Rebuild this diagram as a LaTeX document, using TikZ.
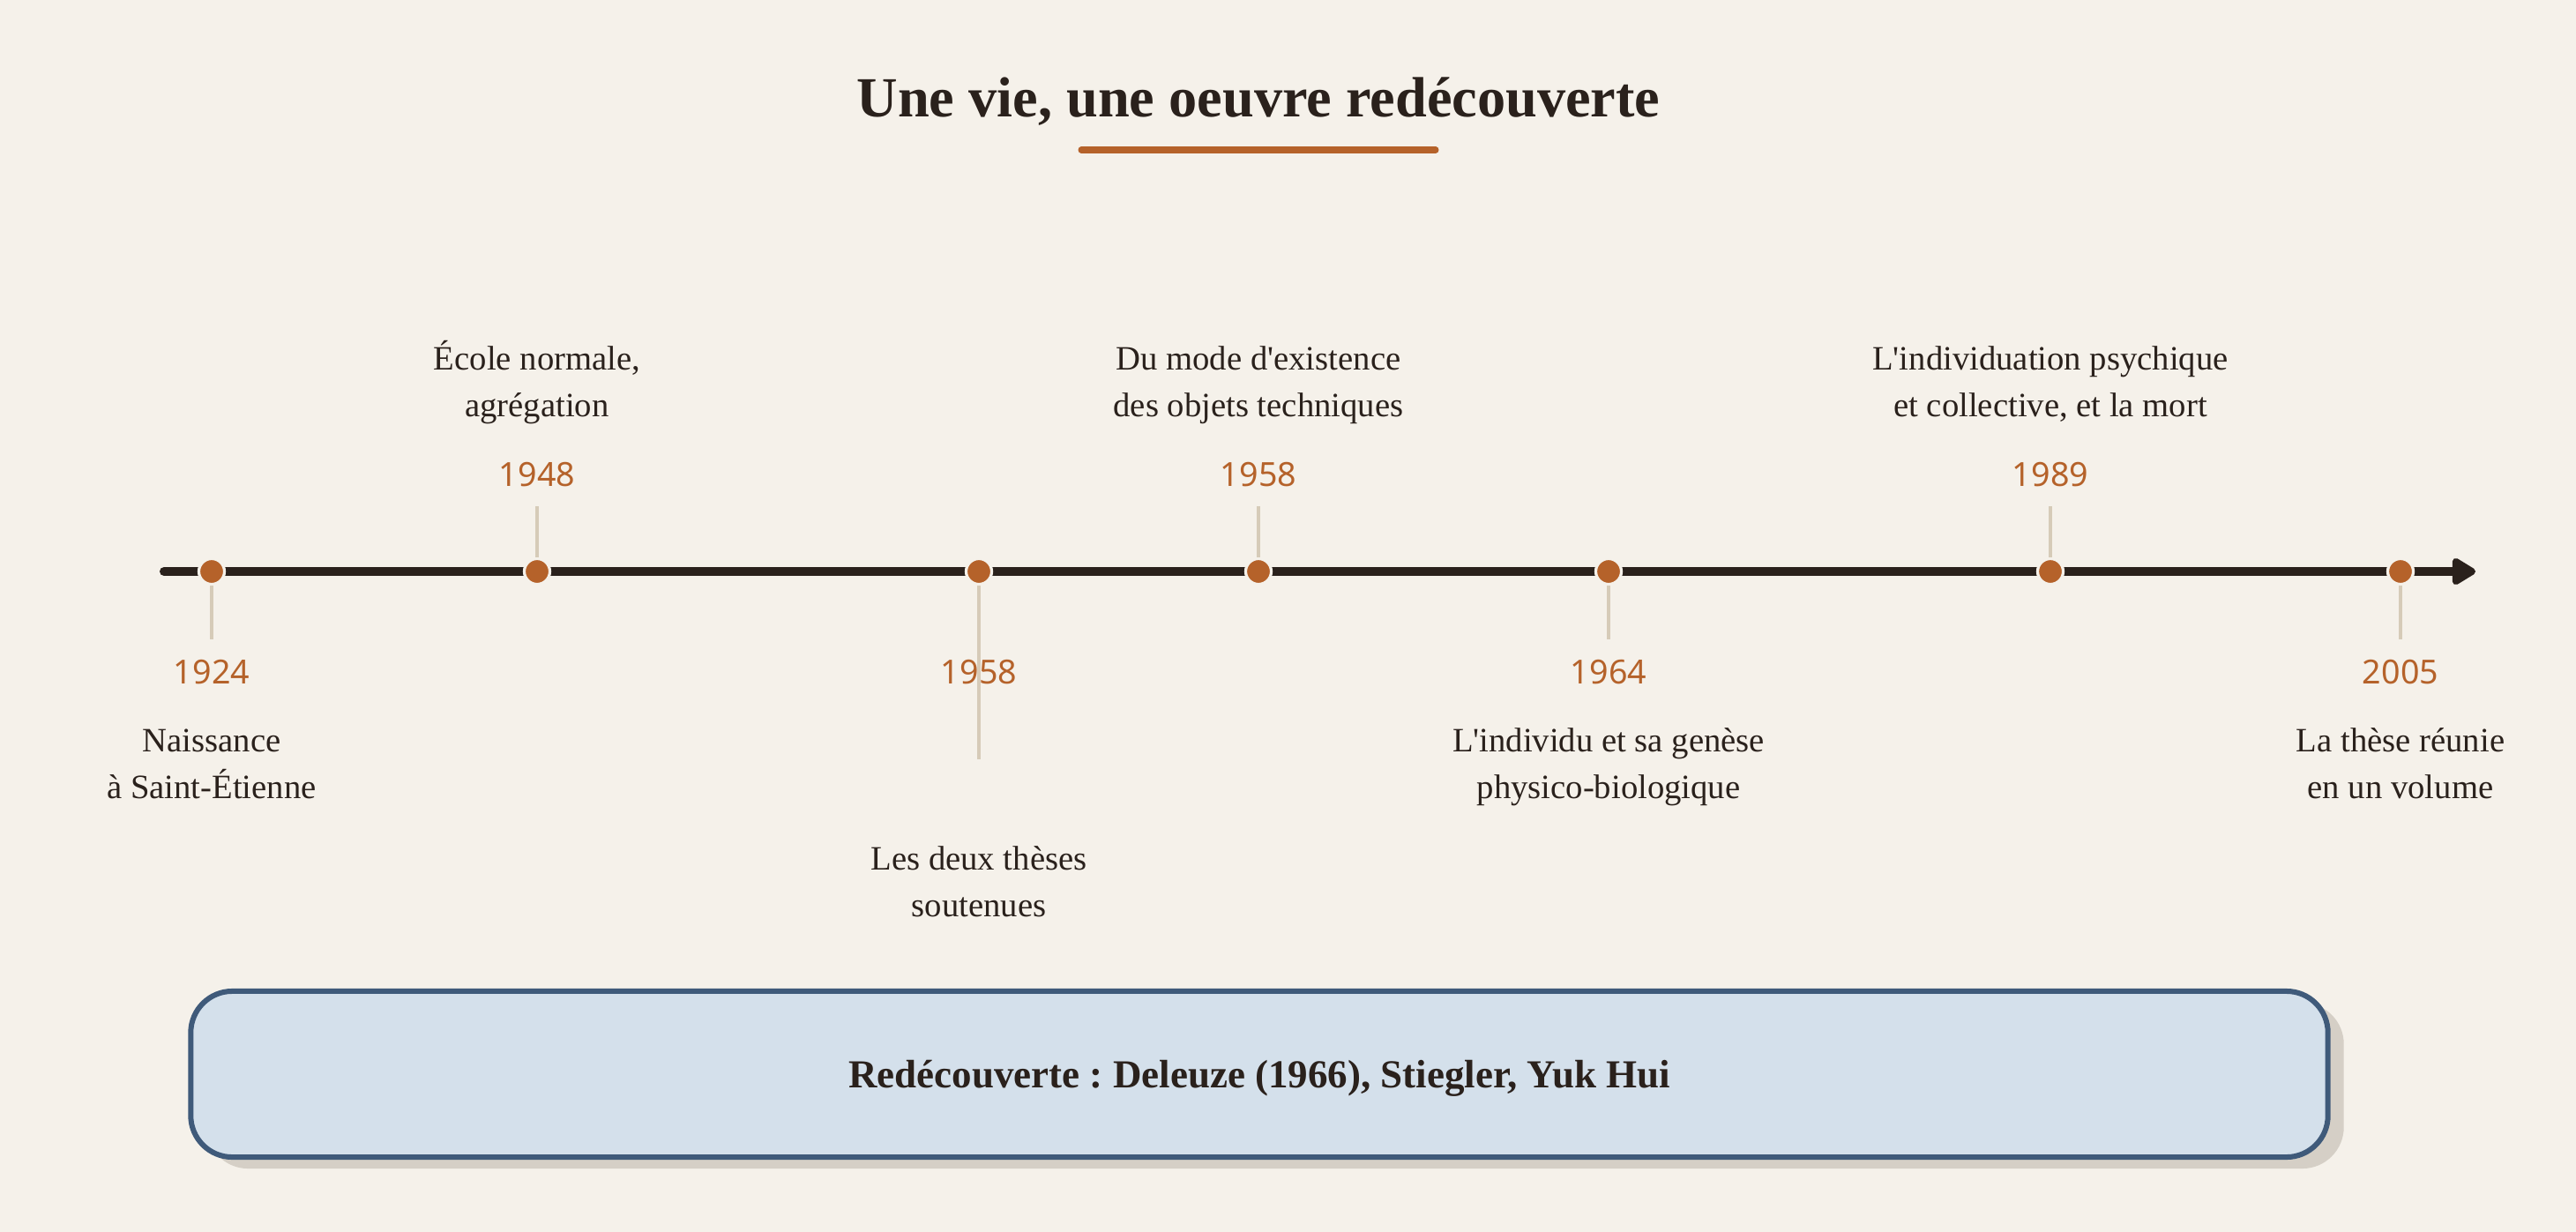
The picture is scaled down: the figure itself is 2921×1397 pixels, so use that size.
\documentclass[tikz,border=0pt]{standalone}
\usepackage{fontspec}
\setmainfont{Liberation Serif}
\newfontfamily\yearfont{Noto Sans}
\usetikzlibrary{arrows.meta,shadows}

\definecolor{paper}{HTML}{F5F1EA}
\definecolor{ink}{HTML}{2A211C}
\definecolor{rust}{HTML}{B5622A}
\definecolor{stem}{HTML}{D6CBB8}
\definecolor{boxfill}{HTML}{D4E0EB}
\definecolor{boxline}{HTML}{3F5A7A}
\definecolor{boxshade}{HTML}{D5CFC6}

\newcommand*{\axisy}{648}
\newcommand*{\upyear}{551}
\newcommand*{\downyear}{775}
\newcommand*{\uptext}{435}
\newcommand*{\downtext}{868}
\newcommand*{\apos}{\textquotesingle}

\begin{document}
\frenchspacing
\begin{tikzpicture}
[
	x=0.01cm, y=-0.01cm,
	event/.style={circle,fill=rust,draw=paper,line width=0.032cm,inner sep=0pt,minimum size=0.29cm},
	year/.style={text=rust,anchor=base,inner sep=0pt,font=\yearfont\fontsize{10.7}{13}\selectfont},
	caption/.style={text=ink,align=center,inner sep=0pt,font=\fontsize{11}{15.1}\selectfont},
	stemline/.style={stem,line width=0.04cm},
	notebox/.style={draw=boxline,fill=boxfill,line width=0.06cm,rounded corners=0.47cm,
		minimum width=24.22cm,minimum height=1.88cm,text=ink,text depth=0pt,
		font=\bfseries\fontsize{12.8}{15}\selectfont,
		drop shadow={shadow xshift=0.18cm,shadow yshift=-0.13cm,fill=boxshade,opacity=1}}
]

	% background
	\fill[paper] (0,0) rectangle (2921,1397);
	\useasboundingbox (0,0) rectangle (2921,1397);

	% title
	\node[text=ink,anchor=base,font=\bfseries\fontsize{18.3}{22}\selectfont] (title) at (1427,133)
		{Une vie, une oeuvre redécouverte};
	\coordinate (rule-l) at (1226,170);
	\coordinate (rule-r) at (1628,170);
	\draw[rust,line width=0.07cm,line cap=round] (rule-l) -- (rule-r);

	% axis
	\coordinate (start) at (186,\axisy);
	\coordinate (end) at (2807,\axisy);
	\draw[ink,line width=0.1cm,line cap=round,-{Triangle[length=0.3cm,width=0.34cm,round]}]
		(start) -- (end);

	% 1924
	\node[event] (birth) at (240,\axisy) {};
	\coordinate (birth-stem) at (240,725);
	\draw[stemline] (birth.south) -- (birth-stem);
	\node[year] (birth-year) at (240,\downyear) {1924};
	\node[caption] (birth-text) at (240,\downtext) {\strut Naissance\\\strut à Saint-Étienne};
	%
	\node[event] (ens) at (609,\axisy) {};
	\coordinate (ens-stem) at (609,574);
	\draw[stemline] (ens.north) -- (ens-stem);
	\node[year] (ens-year) at (609,\upyear) {1948};
	\node[caption] (ens-text) at (609,\uptext) {\strut École normale,\\\strut agrégation};
	%
	\node[event] (theses) at (1110,\axisy) {};
	\coordinate (theses-stem) at (1110,861);
	\draw[stemline] (theses.south) -- (theses-stem);
	\node[year] (theses-year) at (1110,\downyear) {1958};
	\node[caption] (theses-text) at (1110,1002) {\strut Les deux thèses\\\strut soutenues};
	%
	\node[event] (meot) at (1427,\axisy) {};
	\coordinate (meot-stem) at (1427,574);
	\draw[stemline] (meot.north) -- (meot-stem);
	\node[year] (meot-year) at (1427,\upyear) {1958};
	\node[caption] (meot-text) at (1427,\uptext) {\strut Du mode d\apos existence\\\strut des objets techniques};
	%
	\node[event] (ig) at (1824,\axisy) {};
	\coordinate (ig-stem) at (1824,725);
	\draw[stemline] (ig.south) -- (ig-stem);
	\node[year] (ig-year) at (1824,\downyear) {1964};
	\node[caption] (ig-text) at (1824,\downtext) {\strut L\apos individu et sa genèse\\\strut physico-biologique};
	%
	\node[event] (ipc) at (2325,\axisy) {};
	\coordinate (ipc-stem) at (2325,574);
	\draw[stemline] (ipc.north) -- (ipc-stem);
	\node[year] (ipc-year) at (2325,\upyear) {1989};
	\node[caption] (ipc-text) at (2325,\uptext) {\strut L\apos individuation psychique\\\strut et collective, et la mort};
	%
	\node[event] (volume) at (2722,\axisy) {};
	\coordinate (volume-stem) at (2722,725);
	\draw[stemline] (volume.south) -- (volume-stem);
	\node[year] (volume-year) at (2722,\downyear) {2005};
	\node[caption] (volume-text) at (2722,\downtext) {\strut La thèse réunie\\\strut en un volume};

	% box
	\node[notebox] (note) at (1428,1218) {Redécouverte : Deleuze (1966), Stiegler, Yuk Hui};

\end{tikzpicture}
\end{document}
